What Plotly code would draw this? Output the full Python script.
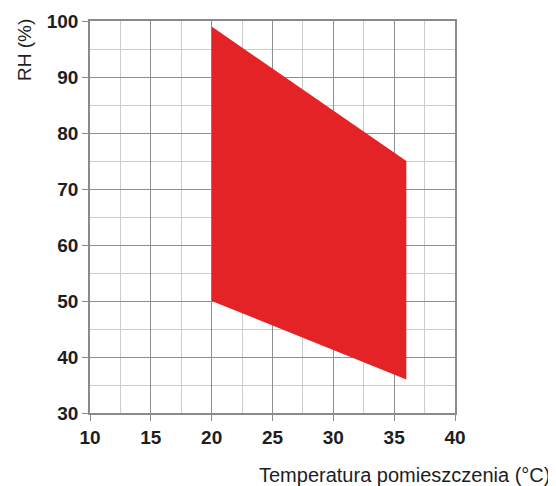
import plotly.graph_objects as go

# Operating range polygon (temperature °C, RH %)
temp = [20, 36, 36, 20, 20]
rh = [99, 75, 36, 50, 99]

x_ticks = [10, 15, 20, 25, 30, 35, 40]
y_ticks = [30, 40, 50, 60, 70, 80, 90, 100]

x_title = "Temperatura pomieszczenia (°C)"
y_title = "RH (%)"

fig = go.Figure()
fig.add_trace(go.Scatter(
    x=temp, y=rh, mode="lines", fill="toself",
    fillcolor="#e42327", line=dict(width=0, color="#e42327"),
    hoverinfo="skip", showlegend=False,
))

tick_font = dict(family="Liberation Sans", size=19, color="#1e1e1e", weight="bold")

fig.update_xaxes(
    range=[10, 40], tickvals=x_ticks, ticktext=[str(v) for v in x_ticks],
    showgrid=True, gridcolor="#8f8f8f", gridwidth=1.3,
    minor=dict(dtick=2.5, tick0=10, showgrid=True, gridcolor="#cccccc", gridwidth=1.3, ticks=""),
    showline=True, linecolor="#8a8a8a", linewidth=1.6, mirror=True,
    ticks="outside", ticklen=6, tickcolor="#8a8a8a", tickwidth=1.4,
    tickfont=tick_font, zeroline=False, fixedrange=True, automargin=False,
)
fig.update_yaxes(
    range=[30, 100], tickvals=y_ticks, ticktext=[str(v) for v in y_ticks],
    showgrid=True, gridcolor="#8f8f8f", gridwidth=1.3,
    minor=dict(dtick=5, tick0=30, showgrid=True, gridcolor="#cccccc", gridwidth=1.3, ticks=""),
    showline=True, linecolor="#8a8a8a", linewidth=1.6, mirror=True,
    ticks="outside", ticklen=6, tickcolor="#8a8a8a", tickwidth=1.4,
    tickfont=tick_font, zeroline=False, fixedrange=True, automargin=False,
)

fig.add_annotation(
    text=x_title, xref="paper", yref="paper", x=1.266, y=-0.158,
    xanchor="right", yanchor="middle", showarrow=False,
    font=dict(family="Liberation Sans", size=20, color="#1e1e1e"),
)
fig.add_annotation(
    text=y_title, xref="paper", yref="paper", x=-0.181, y=0.926,
    xanchor="center", yanchor="middle", showarrow=False, textangle=-90,
    font=dict(family="Liberation Sans", size=19, color="#1e1e1e"),
)

fig.update_layout(
    width=548, height=478,
    margin=dict(l=82, r=101, t=13, b=73),
    paper_bgcolor="white", plot_bgcolor="white",
)

fig.write_html("out.html")
